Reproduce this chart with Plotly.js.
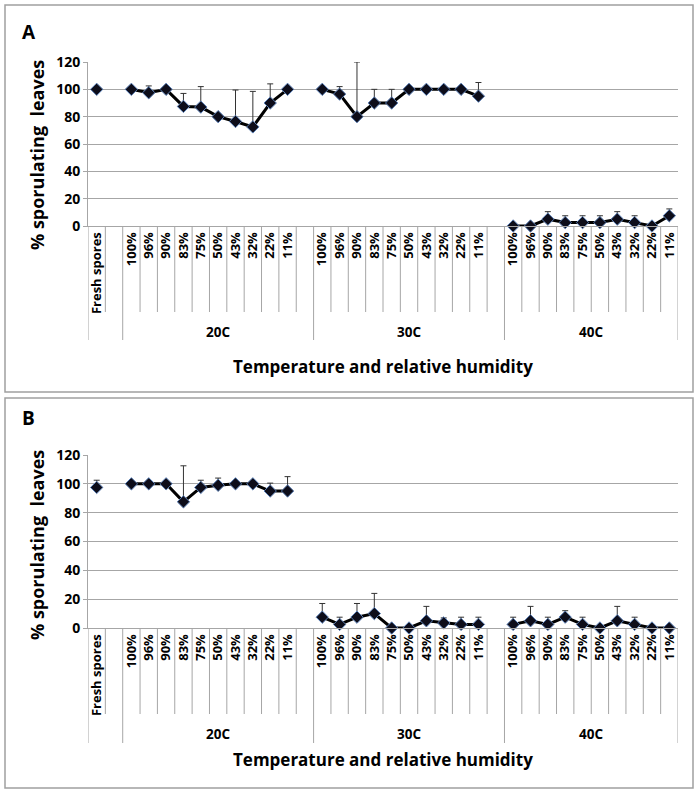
<!DOCTYPE html>
<html>
<head>
<meta charset="utf-8">
<script src="https://cdn.plot.ly/plotly-3.0.1.min.js"></script>
<style>html,body{margin:0;padding:0;background:#fff;}#chart{width:700px;height:793px;}</style>
</head>
<body>
<div id="chart"></div>
<script>
// ---- categories ----
const freshLabel = 'Fresh spores';
const rh = ['100%','96%','90%','83%','75%','50%','43%','32%','22%','11%'];
const temps = ['20C','30C','40C'];

// ---- panel A values (% sporulating leaves) and upper error ----
const freshA = 100, freshAErr = 0;
const a20 = [100, 97.5, 100, 87.5, 87, 80, 76.5, 72.5, 90, 100];
const a20Err = [0, 5, 0, 9.5, 15, 0, 23, 26, 14, 0];
const a30 = [100, 96.5, 80, 90, 90, 100, 100, 100, 100, 95];
const a30Err = [0, 5.5, 40, 10, 10, 0, 0, 0, 0, 10];
const a40 = [0, 0, 5, 2.5, 2.5, 2.5, 5, 2.5, 0, 7.5];
const a40Err = [0, 0, 5.5, 5, 5, 5, 5.5, 5, 0, 5];

// ---- panel B values ----
const freshB = 97.5, freshBErr = 5;
const b20 = [100, 100, 100, 87.5, 97.5, 99, 100, 100, 95, 95];
const b20Err = [0, 0, 0, 25, 5, 5, 0, 0, 5.5, 10];
const b30 = [7.5, 2.5, 7.5, 10, 0, 0, 5, 3.5, 2.5, 2.5];
const b30Err = [9.5, 5, 9.5, 14, 0, 0, 10, 3.5, 5, 5];
const b40 = [2.5, 5, 2.5, 7.5, 2.5, 0, 5, 2.5, 0, 0];
const b40Err = [5, 10, 5, 4.5, 5, 0, 10, 5, 0, 0];

const yTitle = '% sporulating  leaves';
const xTitle = 'Temperature and relative humidity';

// ---- build slot structure ----
const W = 700, H = 793;
const slotLabels = [freshLabel, ''].concat(rh, [''], rh, [''], rh);
const outerGroups = [{name:'', n:2}, {name:temps[0], n:rh.length+1}, {name:temps[1], n:rh.length+1}, {name:temps[2], n:rh.length}];
const nSlots = slotLabels.length;
const xIdx = slotLabels.map((_, i) => i);
const tickVals = xIdx.filter(i => slotLabels[i] !== '');
const tickText = tickVals.map(i => slotLabels[i]);

function series(fresh, g20, g30, g40) { return [fresh, null].concat(g20, [null], g30, [null], g40); }

const FONT = 'Open Sans, Noto Sans, sans-serif';
const GRID = '#a6a6a6';
const py = p => 1 - p / H;
const px = p => p / W;

const panels = [
  {key:'', y: series(freshA, a20, a30, a40), e: series(freshAErr, a20Err, a30Err, a40Err), label:'A',
   top:62, bottom:226, innerBottom:312, outerBottom:340, groupY:332, titleY:366, box:[5,5,693,392], labelY:32, yTitleY:155},
  {key:'2', y: series(freshB, b20, b30, b40), e: series(freshBErr, b20Err, b30Err, b40Err), label:'B',
   top:455, bottom:628, innerBottom:714, outerBottom:743, groupY:734, titleY:759, box:[5,398,693,788], labelY:418, yTitleY:545}
];

const plotLeft = 88, plotRight = 678;
const traces = [], shapes = [], annotations = [];
const layout = {
  width: W, height: H, margin: {l:0, r:0, t:0, b:0},
  paper_bgcolor: '#fff', plot_bgcolor: '#fff', showlegend: false,
  font: {family: FONT, color: '#000'}
};

panels.forEach(p => {
  const xa = 'x' + p.key, ya = 'y' + p.key;
  traces.push({
    type: 'scatter', mode: 'lines+markers', x: xIdx, y: p.y, xaxis: xa, yaxis: ya,
    connectgaps: false, cliponaxis: false,
    line: {color: '#000', width: 3},
    marker: {symbol: 'diamond', size: 9.5, color: '#0d0d1a', line: {color: '#5b7fb5', width: 1}},
    error_y: {type: 'data', symmetric: false, array: p.e, arrayminus: p.e.map(() => 0),
              color: '#333', thickness: 1, width: 3}
  });
  layout['xaxis' + p.key] = {
    domain: [px(plotLeft), px(plotRight)], anchor: ya, range: [-0.5, nSlots - 0.5],
    tickmode: 'array', tickvals: tickVals, ticktext: tickText, tickangle: -90,
    tickfont: {family: FONT, size: 13, weight: 'bold', color: '#000'},
    ticks: '', showgrid: false, zeroline: false, showline: true, linecolor: GRID, linewidth: 1,
    fixedrange: true
  };
  layout['yaxis' + p.key] = {
    domain: [py(p.bottom), py(p.top)], anchor: xa, range: [0, 120], dtick: 20,
    tickfont: {family: FONT, size: 14, weight: 'bold', color: '#000'},
    ticks: 'outside', ticklen: 4, tickcolor: GRID, showgrid: true, gridcolor: GRID, gridwidth: 1,
    zeroline: false, showline: true, linecolor: GRID, linewidth: 1, fixedrange: true
  };
  // panel border
  shapes.push({type:'rect', xref:'paper', yref:'paper', x0:px(p.box[0]), x1:px(p.box[2]), y0:py(p.box[3]), y1:py(p.box[1]),
               line:{color:'#a0a0a0', width:1.5}, fillcolor:'rgba(0,0,0,0)', layer:'below'});
  // category separators (inner short, outer group boundaries long)
  const outerBounds = [];
  let acc = -0.5; outerBounds.push(acc);
  outerGroups.forEach(g => { acc += g.n; outerBounds.push(acc); });
  for (let i = 0; i <= nSlots; i++) {
    const xb = i - 0.5;
    const isOuter = outerBounds.some(b => Math.abs(b - xb) < 1e-9);
    shapes.push({type:'line', xref:xa, yref:'paper', x0:xb, x1:xb, y0:py(p.bottom), y1:py(isOuter ? p.outerBottom : p.innerBottom),
                 line:{color:GRID, width:1}});
  }
  // group labels centred on each outer group
  let start = -0.5;
  outerGroups.forEach(g => {
    if (g.name) annotations.push({xref:xa, yref:'paper', x: start + g.n / 2, y: py(p.groupY),
      text: g.name, showarrow:false, font:{family:FONT, size:13.5, weight:'bold', color:'#000'}, xanchor:'center', yanchor:'middle'});
    start += g.n;
  });
  // x title
  annotations.push({xref:'paper', yref:'paper', x: px((plotLeft + plotRight) / 2), y: py(p.titleY), text: xTitle,
    showarrow:false, font:{family:FONT, size:17, weight:'bold', color:'#000'}, xanchor:'center', yanchor:'middle'});
  // y title
  annotations.push({xref:'paper', yref:'paper', x: px(37), y: py(p.yTitleY), text: yTitle, textangle: -90,
    showarrow:false, font:{family:FONT, size:18, weight:'bold', color:'#000'}, xanchor:'center', yanchor:'middle'});
  // panel label
  annotations.push({xref:'paper', yref:'paper', x: px(29), y: py(p.labelY), text: p.label,
    showarrow:false, font:{family:FONT, size:19, weight:'bold', color:'#000'}, xanchor:'center', yanchor:'middle'});
});

layout.shapes = shapes;
layout.annotations = annotations;
Plotly.newPlot('chart', traces, layout, {staticPlot: true, displayModeBar: false});
</script>
</body>
</html>
